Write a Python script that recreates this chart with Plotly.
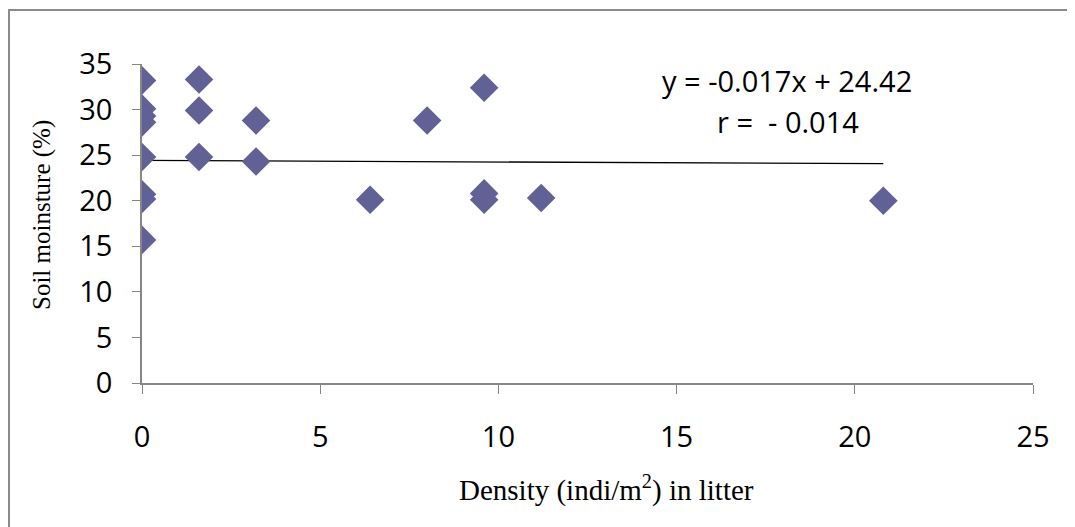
import plotly.graph_objects as go

# Data
density = [0, 0, 0, 0, 0, 0, 0, 0,
           1.6, 1.6, 1.6,
           3.2, 3.2,
           6.4,
           8.0,
           9.6, 9.6, 9.6,
           11.2,
           20.8]
moisture = [33.2, 30.1, 29.3, 28.6, 24.8, 20.7, 20.2, 15.7,
            33.3, 29.9, 24.8,
            28.8, 24.3,
            20.1,
            28.8,
            32.4, 20.8, 20.1,
            20.3,
            20.0]

trend_slope = -0.017
trend_intercept = 24.42
trend_x = [min(density), max(density)]
trend_y = [trend_intercept + trend_slope * v for v in trend_x]

x_ticks = [0, 5, 10, 15, 20, 25]
y_ticks = [0, 5, 10, 15, 20, 25, 30, 35]

# The page body adds an 8px offset; size the figure so the plot lands where it should
OFF = 8
W, H = 1075 - OFF, 527 - OFF
L, R, T, B = 142 - OFF, 42, 64 - OFF, 144
pw, ph = W - L - R, H - T - B

def px_to_paper_x(p):
    return (p - OFF - L) / pw

def px_to_paper_y(p):
    return (H - B - (p - OFF)) / ph

fig = go.Figure()
fig.add_trace(go.Scatter(
    x=trend_x, y=trend_y, mode="lines",
    line=dict(color="black", width=1.3), showlegend=False, hoverinfo="skip"))
fig.add_trace(go.Scatter(
    x=density, y=moisture, mode="markers",
    marker=dict(symbol="diamond", size=22, color="#616196", line=dict(width=0)),
    showlegend=False))

tick_font = dict(family="Open Sans, Liberation Sans, sans-serif", size=29, color="black")

fig.update_layout(
    width=W, height=H,
    margin=dict(l=L, r=R, t=T, b=B, pad=0),
    paper_bgcolor="white", plot_bgcolor="white",
    xaxis=dict(range=[0, 25], tickvals=x_ticks, ticks="outside", ticklen=9,
               tickcolor="#868686", showline=True, linecolor="#868686", linewidth=1.5,
               showgrid=False, zeroline=False, tickfont=tick_font,
               ticklabelstandoff=18, automargin=False),
    yaxis=dict(range=[0, 35], tickvals=y_ticks, ticks="outside", ticklen=8,
               tickcolor="#868686", showline=True, linecolor="#868686", linewidth=1.5,
               showgrid=False, zeroline=False, tickfont=tick_font,
               ticklabelstandoff=14, automargin=False),
    font=dict(family="Open Sans, sans-serif", color="black"),
)

# Axis titles
fig.add_annotation(
    text="Density (indi/m<sup>2</sup>) in litter",
    xref="paper", yref="paper", x=px_to_paper_x(606), y=px_to_paper_y(488),
    showarrow=False, xanchor="center", yanchor="middle",
    font=dict(family="Liberation Serif, Times New Roman, serif", size=29, color="black"))
fig.add_annotation(
    text="Soil moinsture (%)", textangle=-90,
    xref="paper", yref="paper", x=px_to_paper_x(42), y=px_to_paper_y(215),
    showarrow=False, xanchor="center", yanchor="middle",
    font=dict(family="Liberation Serif, Times New Roman, serif", size=25, color="black"))

# Equation text
fig.add_annotation(
    text=f"y = {trend_slope}x + {trend_intercept}",
    xref="paper", yref="paper", x=px_to_paper_x(787), y=px_to_paper_y(80),
    showarrow=False, xanchor="center", yanchor="middle", font=tick_font)
fig.add_annotation(
    text="r =  - 0.014",
    xref="paper", yref="paper", x=px_to_paper_x(788), y=px_to_paper_y(122),
    showarrow=False, xanchor="center", yanchor="middle", font=tick_font)

# Outer chart border (extends past right and bottom edges)
fig.add_shape(type="rect", xref="paper", yref="paper",
              x0=px_to_paper_x(9), x1=px_to_paper_x(1090),
              y0=px_to_paper_y(545), y1=px_to_paper_y(10),
              line=dict(color="#8a8a8a", width=2), fillcolor="rgba(0,0,0,0)",
              layer="below")

fig.write_html("out.html")
